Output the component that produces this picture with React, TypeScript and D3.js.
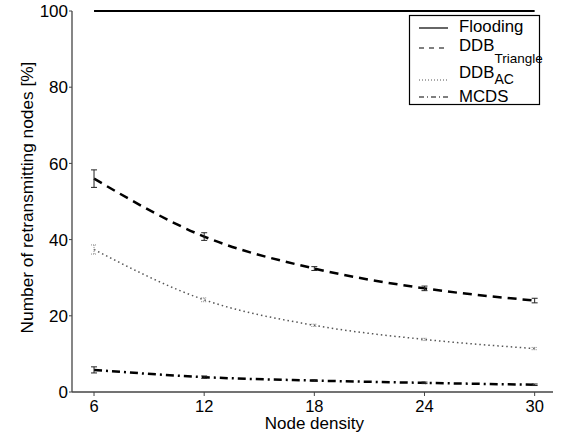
import React from "react";
import * as d3 from "d3";

const densities = [6, 12, 18, 24, 30];
const yTicks = [0, 20, 40, 60, 80, 100];
const flooding = [100, 100, 100, 100, 100];
const ddbTriangle = [56.0, 40.8, 32.4, 27.2, 24.0];
const ddbTriangleErr = [2.3, 1.0, 0.5, 0.6, 0.6];
const ddbAC = [37.4, 24.2, 17.5, 13.8, 11.4];
const ddbACErr = [1.2, 0.5, 0.3, 0.3, 0.3];
const mcds = [5.8, 3.9, 3.0, 2.4, 1.9];
const mcdsErr = [0.8, 0.3, 0.2, 0.2, 0.2];

const W = 563, H = 436;
const x = d3.scaleLinear().domain([4.8, 31]).range([72, 553]);
const y = d3.scaleLinear().domain([0, 100]).range([392, 11]);
const FONT = "Liberation Sans, Arial, sans-serif";

type Series = { name: string; vals: number[]; err?: number[]; dash: string; width: number; color: string; legDash?: string };
const series: Series[] = [
  { name: "Flooding", vals: flooding, dash: "", width: 2.2, color: "#000" },
  { name: "DDB_Triangle", vals: ddbTriangle, err: ddbTriangleErr, dash: "9,6", width: 2.5, color: "#000", legDash: "5,5" },
  { name: "DDB_AC", vals: ddbAC, err: ddbACErr, dash: "1.5,3", width: 1.5, color: "#555", legDash: "1,2" },
  { name: "MCDS", vals: mcds, err: mcdsErr, dash: "8,4,2,4", width: 2.5, color: "#000", legDash: "5,3,1,3" },
];

const legText = [32, 51, 78, 102];
const legLine = [28, 48, 80, 97];

export default function App() {
  const line = d3.line<number>().x((_, i) => x(densities[i])).y((v) => y(v)).curve(d3.curveMonotoneX);
  return (
    <svg width={W} height={H} style={{ position: "absolute", left: 0, top: 0 }} fontFamily={FONT}>
      <rect width={W} height={H} fill="#fff" />
      <line x1={72} x2={72} y1={y(100)} y2={y(0)} stroke="#444" strokeWidth={1.3} />
      <line x1={72} x2={553} y1={y(0)} y2={y(0)} stroke="#444" strokeWidth={1.3} />
      {yTicks.map((t) => (
        <g key={t}>
          <line x1={69} x2={72} y1={y(t)} y2={y(t)} stroke="#444" strokeWidth={1} />
          <text x={68} y={y(t)} dy="0.36em" textAnchor="end" fontSize={17}>{t}</text>
        </g>
      ))}
      {densities.map((t) => (
        <g key={t}>
          <line x1={x(t)} x2={x(t)} y1={y(0)} y2={y(0) + 4} stroke="#444" strokeWidth={1} />
          <text x={x(t)} y={y(0) + 20} textAnchor="middle" fontSize={16.5}>{t}</text>
        </g>
      ))}
      <text x={x(18)} y={429} textAnchor="middle" fontSize={17}>Node density</text>
      <text transform={`translate(33,${y(50) - 4}) rotate(-90)`} textAnchor="middle" fontSize={17.3}>Number of retransmitting nodes [%]</text>
      {series.map((s) => (
        <g key={s.name}>
          <path d={line(s.vals) || ""} fill="none" stroke={s.color} strokeWidth={s.width} strokeDasharray={s.dash || undefined} />
          {s.err && s.vals.map((v, i) => {
            const cx = x(densities[i]);
            const y1 = y(v + s.err![i]);
            const y2 = y(v - s.err![i]);
            return (
              <g key={i} stroke={s.name === "DDB_AC" ? "#888" : "#222"} strokeWidth={1} strokeDasharray={s.name === "DDB_AC" ? "1,1" : undefined}>
                <line x1={cx} x2={cx} y1={y1} y2={y2} />
                <line x1={cx - 3} x2={cx + 3} y1={y1} y2={y1} />
                <line x1={cx - 3} x2={cx + 3} y1={y2} y2={y2} />
              </g>
            );
          })}
        </g>
      ))}
      <g>
        <rect x={409.5} y={15.5} width={130} height={89} fill="#fff" stroke="#000" strokeWidth={1.2} />
        {series.map((s, i) => (
          <g key={s.name}>
            <line x1={419} x2={448} y1={legLine[i]} y2={legLine[i]} stroke={s.color} strokeWidth={s.name === "DDB_AC" ? 1 : 1.2} strokeDasharray={s.legDash} />
            <text x={459} y={legText[i]} fontSize={16.8}>
              {s.name === "DDB_Triangle" ? (<>DDB<tspan fontSize={13.5} dy={12}>Triangle</tspan></>) : s.name === "DDB_AC" ? (<>DDB<tspan fontSize={14} dy={6}>AC</tspan></>) : s.name}
            </text>
          </g>
        ))}
      </g>
    </svg>
  );
}
